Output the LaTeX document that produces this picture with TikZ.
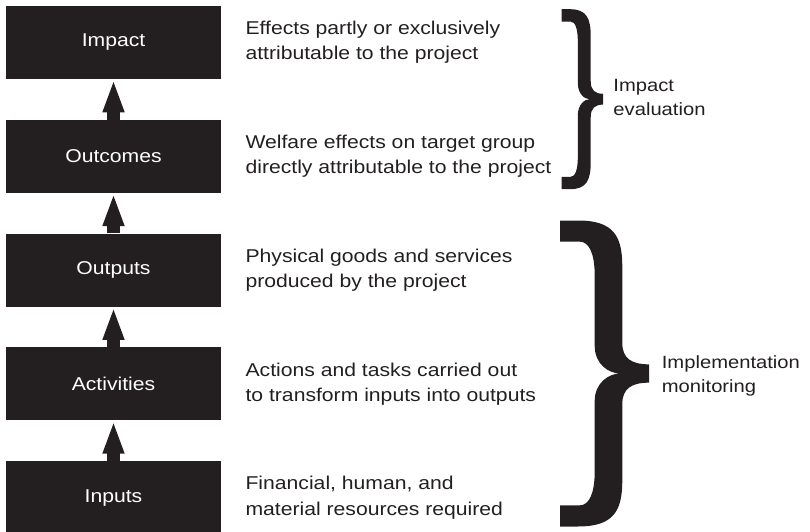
\documentclass[tikz,border=0pt]{standalone}
\usepackage{fontspec}
\setmainfont{Liberation Sans}[FakeStretch=1.14]
\usepackage{tikz}
\usetikzlibrary{positioning,arrows.meta}
\definecolor{ink}{HTML}{231F20}
\tikzstyle{stage} = [fill=ink, text=white, rectangle, inner sep=0pt, minimum height=1.825cm, minimum width=5.375cm]
\tikzstyle{desc} = [anchor=west, align=left, inner sep=0pt, text=ink]
\tikzstyle{flow} = [line width=0.3175cm, draw=ink]
\newcommand{\curlybrace}[4]{%
  \begin{scope}[shift={(#1,#2)},xscale=#3,yscale=-#4]
    \fill[ink] (0,0) -- (0.2,0) .. controls (0.6,0) and (0.7,0.05) .. (0.7,0.15)
      -- (0.7,0.4) .. controls (0.7,0.45) and (0.8,0.47) .. (1,0.47)
      -- (1,0.53) .. controls (0.8,0.53) and (0.7,0.55) .. (0.7,0.6)
      -- (0.7,0.85) .. controls (0.7,0.95) and (0.6,1) .. (0.2,1)
      -- (0,1) -- (0,0.931) -- (0.22,0.931) .. controls (0.33,0.931) and (0.39,0.89) .. (0.39,0.82)
      -- (0.39,0.59) .. controls (0.39,0.53) and (0.55,0.5) .. (0.675,0.5)
      .. controls (0.55,0.5) and (0.39,0.47) .. (0.39,0.41)
      -- (0.39,0.18) .. controls (0.39,0.11) and (0.33,0.069) .. (0.22,0.069)
      -- (0,0.069) -- cycle;
  \end{scope}}

\begin{document}
\begin{tikzpicture}[->,>={Triangle[length=0.825cm,width=0.485cm]},node distance=1.006cm,
    font=\fontsize{13.2pt}{17.8pt}\selectfont]
		\useasboundingbox (0,0) rectangle (20.25,-13.3);
		\node (impact) [stage] at (2.8375,-1.0625) {Impact};
		\node (outcomes) [stage, below=of impact] {Outcomes};
		\node (outputs) [stage, below=of outcomes] {Outputs};
		\node (activities) [stage, below=of outputs] {Activities};
		\node (inputs) [stage, below=of activities] {Inputs};

		\node (impactd) [desc, right=0.6cm of impact] {Effects partly or exclusively\\attributable to the project};
		\node (outcomesd) [desc, right=0.6cm of outcomes] {Welfare effects on target group\\directly attributable to the project};
		\node (outputsd) [desc, right=0.6cm of outputs] {Physical goods and services\\produced by the project};
		\node (activitiesd) [desc, right=0.6cm of activities] {Actions and tasks carried out\\to transform inputs into outputs};
		\node (inputsd) [desc, right=0.6cm of inputs] {Financial, human, and\\material resources required};

		\draw[flow] (inputs) -- (activities);
		\draw[flow] (activities) -- (outputs);
		\draw[flow] (outputs) -- (outcomes);
		\draw[flow] (outcomes) -- (impact);

		\curlybrace{14.04}{-0.23}{1.04}{4.5}
		\curlybrace{14}{-5.5125}{2.225}{7.65}
		\node (evaluation) [desc, font=\fontsize{12.6pt}{17.1pt}\selectfont] at (15.33,-2.44) {Impact\\evaluation};
		\node (monitoring) [desc, font=\fontsize{12.6pt}{17.1pt}\selectfont] at (16.54,-9.4) {Implementation\\monitoring};
	\end{tikzpicture}
\end{document}
